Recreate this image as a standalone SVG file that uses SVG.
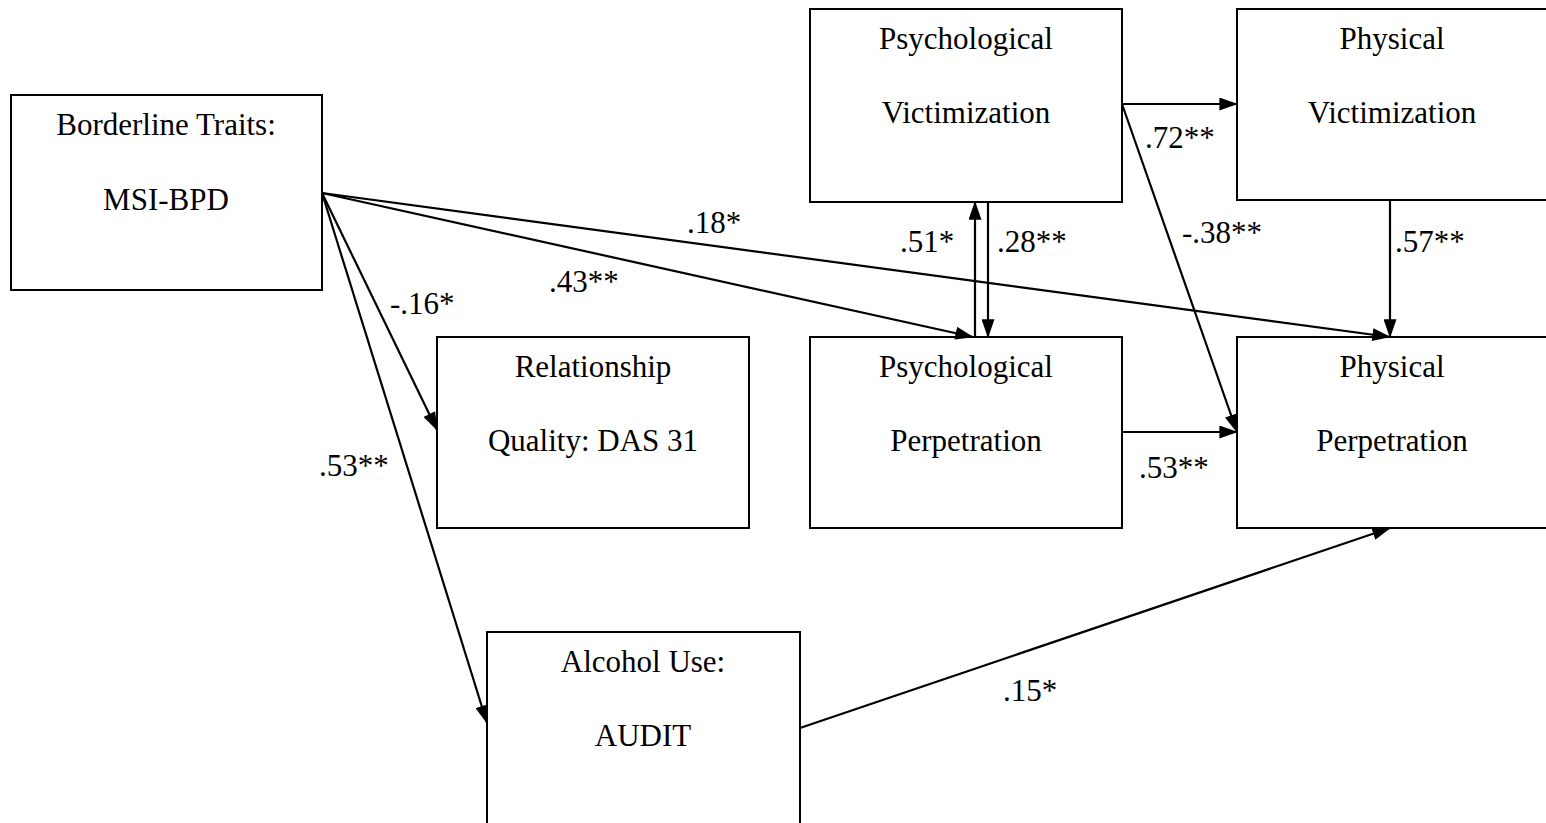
<svg xmlns="http://www.w3.org/2000/svg" width="1546" height="823" viewBox="0 0 1546 823">
<style>
.box{fill:#fff;stroke:#000;stroke-width:2}
text{font-family:"Liberation Serif","Times New Roman",serif;font-size:31px;fill:#000}
.c{text-anchor:middle}
.e{fill:none;stroke:#000;stroke-width:2.2;marker-end:url(#ah)}
</style>
<defs>
<marker id="ah" viewBox="0 0 20 14" refX="19" refY="7" markerWidth="19" markerHeight="13" markerUnits="userSpaceOnUse" orient="auto">
<path d="M0,0 L20,7 L0,14 Z" fill="#000"/>
</marker>
</defs>
<rect width="1546" height="823" fill="#fff"/>
<g id="borderline"><rect class="box" x="11" y="95" width="311" height="195"/><text class="c" x="166" y="135">Borderline Traits:</text><text class="c" x="166" y="210">MSI-BPD</text></g>
<g id="psychvic"><rect class="box" x="810" y="9" width="312" height="193"/><text class="c" x="966" y="49">Psychological</text><text class="c" x="966" y="123">Victimization</text></g>
<g id="physvic"><rect class="box" x="1237" y="9" width="320" height="191"/><text class="c" x="1392" y="49">Physical</text><text class="c" x="1392" y="123">Victimization</text></g>
<g id="relationship"><rect class="box" x="437" y="337" width="312" height="191"/><text class="c" x="593" y="377">Relationship</text><text class="c" x="593" y="451">Quality: DAS 31</text></g>
<g id="psychperp"><rect class="box" x="810" y="337" width="312" height="191"/><text class="c" x="966" y="377">Psychological</text><text class="c" x="966" y="451">Perpetration</text></g>
<g id="physperp"><rect class="box" x="1237" y="337" width="320" height="191"/><text class="c" x="1392" y="377">Physical</text><text class="c" x="1392" y="451">Perpetration</text></g>
<g id="alcohol"><rect class="box" x="487" y="632" width="313" height="200"/><text class="c" x="643" y="672">Alcohol Use:</text><text class="c" x="643" y="746">AUDIT</text></g>
<g id="connectors">
<line class="e" x1="322" y1="193" x2="973" y2="337"/>
<line class="e" x1="322" y1="193" x2="1390" y2="337"/>
<line class="e" x1="322" y1="193" x2="437" y2="430"/>
<line class="e" x1="322" y1="193" x2="487" y2="723"/>
<line class="e" x1="975" y1="337" x2="975" y2="202"/>
<line class="e" x1="988" y1="202" x2="988" y2="337"/>
<line class="e" x1="1122" y1="104" x2="1237" y2="104"/>
<line class="e" x1="1122" y1="104" x2="1237" y2="432"/>
<line class="e" x1="1390" y1="200" x2="1390" y2="337"/>
<line class="e" x1="1122" y1="432" x2="1237" y2="432"/>
<line class="e" x1="800" y1="728" x2="1390" y2="528"/>
</g>
<g id="labels">
<text x="1145" y="148">.72**</text>
<text x="1182" y="243">-.38**</text>
<text x="1395" y="252">.57**</text>
<text x="1139" y="478">.53**</text>
<text x="1003" y="701">.15*</text>
<text x="687" y="233">.18*</text>
<text x="549" y="292">.43**</text>
<text x="390" y="314">-.16*</text>
<text x="319" y="476">.53**</text>
<text x="900" y="252">.51*</text>
<text x="997" y="252">.28**</text>
</g>
</svg>
